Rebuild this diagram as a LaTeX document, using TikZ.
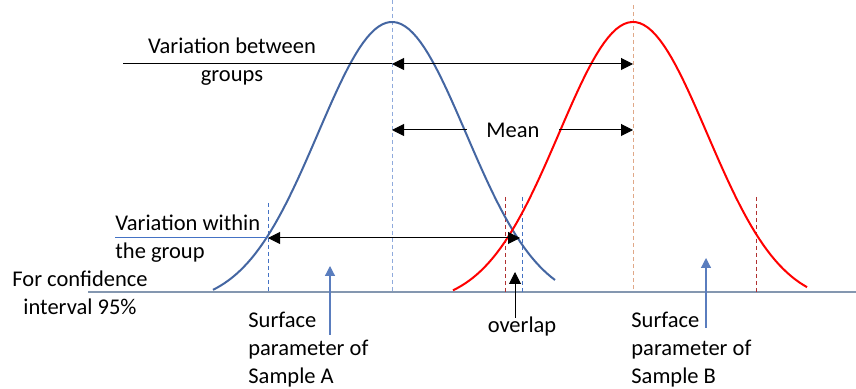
\documentclass[tikz,border=0pt]{standalone}
\usepackage{fontspec}
\setmainfont{Carlito}
\usetikzlibrary{arrows.meta}

\definecolor{curveA}{HTML}{4466A2}
\definecolor{curveB}{HTML}{FF0000}
\definecolor{axisgray}{HTML}{8497B0}
\definecolor{meanA}{HTML}{8FAADC}
\definecolor{meanB}{HTML}{E0A888}
\definecolor{limA}{HTML}{4472C4}
\definecolor{limB}{HTML}{B03030}
\definecolor{pointer}{HTML}{5A7DBE}

\begin{document}
\begin{tikzpicture}[x=0.5pt,y=-0.5pt,>={Triangle[length=6pt,width=6pt]},
    lbl/.style={font=\fontsize{11.25}{14}\selectfont,inner sep=0pt},
    guide/.style={dash pattern=on 2pt off 1.5pt,line width=0.5pt}]
\useasboundingbox (0,0) rectangle (856,389);

% axis
\draw[axisgray,line width=0.8pt] (88,292) -- (856,292);

% dashed guides
\draw[guide,meanA] (392,0) -- (392,292);
\draw[guide,meanB] (633,5) -- (633,292);
\draw[guide,limA] (268,203) -- (268,292);
\draw[guide,limA] (522,197) -- (522,292);
\draw[guide,limB] (505,197) -- (505,292);
\draw[guide,limB] (756,197) -- (756,292);

% the two samples
\foreach \m/\c/\a/\b in {392/curveA/213/555, 633/curveB/453/807}{
    \draw[\c,line width=1pt] plot[domain=\a:\b,samples=90]
        (\x,{290-268*(exp(-0.5*((\x-\m)/74)^2)-0.053)/0.947});
}

% labels
\node[lbl,align=center] (between) at (232,62) {Variation between\\groups};
\node[lbl,inner xsep=9.5pt] (mean) at (513,130) {Mean};
\node[lbl,align=left,anchor=west] (within) at (115,239) {Variation within\\the group};
\node[lbl,align=center] (conf) at (80,293) {For confidence\\interval 95\%};
\node[lbl] (overlap) at (522,327) {overlap};
\node[lbl,align=left,anchor=west] (sampA) at (248,350) {Surface\\parameter of\\Sample A};
\node[lbl,align=left,anchor=west] (sampB) at (631,350) {Surface\\parameter of\\Sample B};

\coordinate (bL) at (123,64);
\coordinate (bA) at (392,64);
\coordinate (bB) at (633,64);
\coordinate (mA) at (392,130);
\coordinate (mB) at (633,130);
\coordinate (wL) at (115,238);
\coordinate (wA) at (268,238);
\coordinate (wB) at (520,238);
\coordinate (ovB) at (515,318);
\coordinate (ovT) at (515,272);
\coordinate (aB) at (330,335);
\coordinate (aT) at (330,266);
\coordinate (cB) at (706,328);
\coordinate (cT) at (706,258);

% arrows
\draw[line width=0.5pt] (bL) -- (bA);
\draw[<->,line width=0.5pt] (bA) -- (bB);
\draw[->,line width=0.5pt] (mean.west) -- (mA);
\draw[->,line width=0.5pt] (mean.east) -- (mB);
\draw[limA,line width=0.5pt] (wL) -- (wA);
\draw[<->,line width=0.5pt] (wA) -- (wB);
\draw[->,line width=0.5pt] (ovB) -- (ovT);
\draw[-{Triangle[length=5pt,width=5pt]},pointer,line width=0.6pt] (aB) -- (aT);
\draw[-{Triangle[length=5pt,width=5pt]},pointer,line width=0.6pt] (cB) -- (cT);
\end{tikzpicture}
\end{document}
